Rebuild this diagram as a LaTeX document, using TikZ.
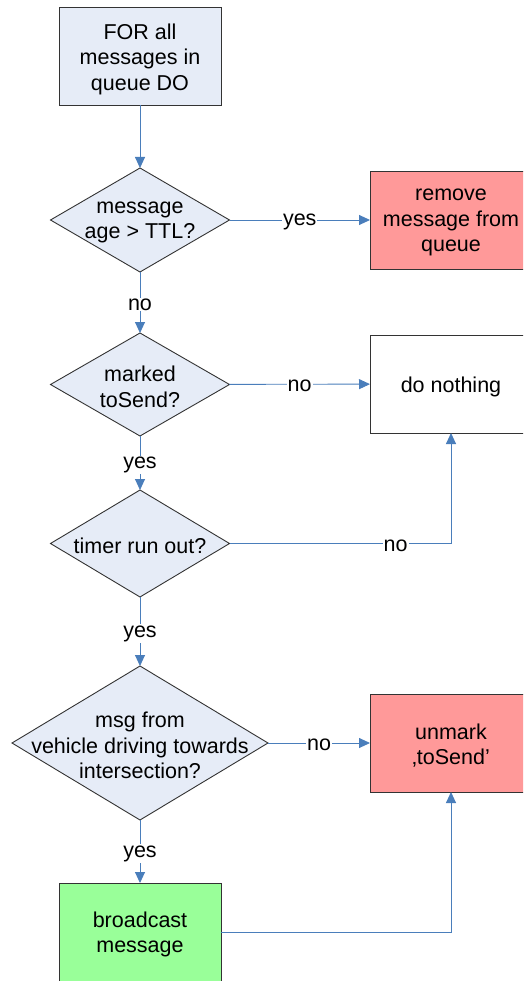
\documentclass[tikz,border=0pt]{standalone}
\usepackage{fontspec}
\setmainfont{Liberation Sans}
\usetikzlibrary{shapes.geometric,arrows.meta}
\definecolor{flowline}{HTML}{4A7EBB}
\definecolor{decfill}{HTML}{E6ECF7}
\definecolor{redfill}{HTML}{FF9999}
\definecolor{greenfill}{HTML}{99FF99}
\tikzset{
  txt/.style={font=\fontsize{21.5pt}{25.5pt}\selectfont},
  inner/.style={txt, align=center, yshift=-2.5pt},
  procbox/.style={draw=black!80, line width=0.9pt, rectangle, minimum width=162pt, minimum height=98pt,
    inner sep=0pt, outer sep=0pt},
  decision/.style={draw=black!80, line width=0.9pt, diamond, fill=decfill, inner sep=0pt, outer sep=0pt},
  conn/.style={draw=flowline, line width=0.9pt, -{Triangle[length=11pt,width=10pt]}},
  lbl/.style={fill=white, inner sep=1pt, txt, yshift=-2pt}
}
\begin{document}
\begin{tikzpicture}[x=1pt,y=-1pt]
\useasboundingbox (0,0) rectangle (523,981);
\clip (0,0) rectangle (523,981);
\fill[white] (0,0) rectangle (523,981);

% process boxes
\node[procbox, fill=decfill, label={[inner]center:FOR all\\messages in\\queue DO}] (loop) at (140,56.5) {};
\node[procbox, fill=redfill, label={[inner]center:remove\\message from\\queue}] (remove) at (451,220) {};
\node[procbox, fill=white, label={[inner]center:do nothing}] (nothing) at (451,384) {};
\node[procbox, fill=redfill, label={[inner]center:unmark\\‚toSend’}] (unmark) at (451,743) {};
\node[procbox, fill=greenfill, label={[inner]center:broadcast\\message}] (bcast) at (140,932) {};

% decisions
\node[decision, minimum width=179pt, minimum height=104pt,
  label={[inner]center:message\\age > TTL?}] (age) at (140,220) {};
\node[decision, minimum width=179pt, minimum height=103pt,
  label={[inner]center:marked\\toSend?}] (marked) at (140,384.5) {};
\node[decision, minimum width=179pt, minimum height=107pt,
  label={[inner]center:timer run out?}] (timer) at (140,543.5) {};
\node[decision, minimum width=256pt, minimum height=154pt,
  label={[inner]center:msg from\\vehicle driving towards\\intersection?}] (vehicle) at (140,743) {};

% connectors
\draw[conn] (loop) -- (age);
\draw[conn] (age) -- node[lbl] {yes} (remove);
\draw[conn] (age) -- node[lbl] {no} (marked);
\draw[conn] (marked) -- node[lbl] {no} (nothing);
\draw[conn] (marked) -- node[lbl] {yes} (timer);
\draw[conn] (timer.east) -- node[lbl, pos=0.75] {no} (timer.east -| nothing.south) -- (nothing.south);
\draw[conn] (timer) -- node[lbl] {yes} (vehicle);
\draw[conn] (vehicle) -- node[lbl] {no} (unmark);
\draw[conn] (vehicle) -- node[lbl] {yes} (bcast);
\draw[conn] (bcast.east) -| (unmark.south);
\end{tikzpicture}
\end{document}
